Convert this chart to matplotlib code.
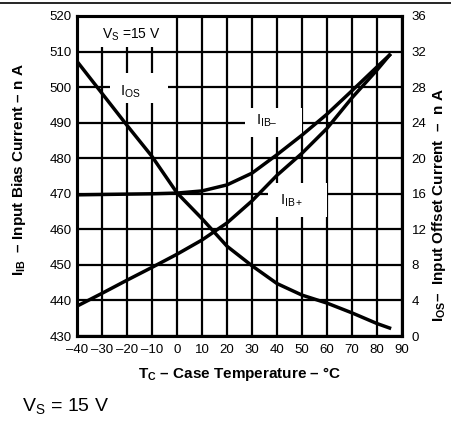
import numpy as np
import matplotlib
matplotlib.use('Agg')
import matplotlib.pyplot as plt
from matplotlib.lines import Line2D
from matplotlib.patches import Rectangle

plt.rcParams['font.family'] = ['Liberation Sans', 'DejaVu Sans']
plt.rcParams['mathtext.fontset'] = 'custom'
plt.rcParams['mathtext.rm'] = 'Liberation Sans'
plt.rcParams['mathtext.it'] = 'Liberation Sans:italic'
plt.rcParams['mathtext.bf'] = 'Liberation Sans:bold'

# temperature (deg C)
temp = [-40, -30, -20, -10, 0, 10, 20, 30, 40, 50, 60, 70, 80, 85]
# input bias currents (nA), left axis
iib_minus = [469.7, 469.8, 469.9, 470.0, 470.2, 470.8, 472.5, 475.8, 481.0, 486.5, 492.4, 499.0, 505.7, 509.0]
iib_plus = [438.4, 442.0, 445.7, 449.3, 453.0, 457.0, 461.8, 468.0, 475.2, 481.4, 488.4, 497.0, 504.8, 509.0]
# input offset current (nA), right axis
ios = [30.9, 27.3, 23.7, 20.2, 16.1, 13.2, 10.1, 7.9, 5.9, 4.6, 3.7, 2.6, 1.4, 0.9]

xticks = list(range(-40, 91, 10))
yticks_left = list(range(430, 521, 10))
yticks_right = list(range(0, 37, 4))

fig = plt.figure(figsize=(4.51, 4.21), dpi=100)
ax = fig.add_axes([0.1707, 0.2019, 0.7207, 0.7601])
ax2 = ax.twinx()

ax.set_xlim(-40, 90)
ax.set_ylim(430, 520)
ax2.set_ylim(0, 36)
ax.set_xticks(xticks)
ax.set_yticks(yticks_left)
ax2.set_yticks(yticks_right)
ax.set_xticklabels([str(t).replace('-', '\u2013') for t in xticks])

ax.grid(True, color='black', linewidth=1.6)
ax.set_axisbelow(True)
for a in (ax, ax2):
    for s in a.spines.values():
        s.set_linewidth(2.2)
ax.tick_params(length=0, labelsize=9.5, pad=4)
ax.tick_params(axis='x', pad=6)
ax2.tick_params(length=0, labelsize=9.5, pad=7)

ax.plot(temp, iib_minus, color='black', linewidth=2.5, zorder=3)
ax.plot(temp, iib_plus, color='black', linewidth=2.5, zorder=3)
ax2.plot(temp, ios, color='black', linewidth=2.5, zorder=3)

# white backgrounds behind the in-plot labels (x0, y0, x1, y1 in left-axis units)
label_boxes = [(-39.8, 511.3, -0.8, 519.8), (-26.8, 495.5, -3.6, 504.0),
               (27.2, 486.0, 50.0, 494.1), (36.4, 463.5, 60.0, 473.0)]
for x0, y0, x1, y1 in label_boxes:
    ax.add_patch(Rectangle((x0, y0), x1 - x0, y1 - y0, facecolor='white',
                           edgecolor='none', zorder=1))

ax.text(-30, 514.7, r'$\mathrm{V_S}$ =15 V', fontsize=10, va='center', ha='left', zorder=4)
ax.text(-22.8, 498.6, r'$\mathrm{I_{OS}}$', fontsize=10.5, va='center', ha='left', zorder=4)
ax.text(31.5, 490.6, '$\\mathrm{I_{IB\u2013}}$', fontsize=10.5, va='center', ha='left', zorder=4)
ax.text(41.2, 468.0, r'$\mathrm{I_{IB+}}$', fontsize=10.5, va='center', ha='left', zorder=4)

ax.set_xlabel(r'$\mathbf{T_C}$ ' + '\u2013 Case Temperature \u2013 \u00b0C',
              fontsize=11, fontweight='bold', labelpad=6)
ax.set_ylabel(r'$\mathbf{I_{IB}}$  ' + '\u2013 Input Bias Current \u2013 n A',
              fontsize=11, fontweight='bold')
ax.yaxis.set_label_coords(-0.15, 0.52)
ax2.set_ylabel(r'$\mathbf{I_{OS}}$' + '\u2013  Input Offset Current  \u2013  n A',
               fontsize=11, fontweight='bold')
ax2.yaxis.set_label_coords(1.085, 0.41)

fig.text(0.049, 0.012, r'$\mathrm{V_S}$ = 15 V', fontsize=14, ha='left', va='bottom')
fig.add_artist(Line2D([0, 1], [0.994, 0.994], color='black', linewidth=1.2))

fig.savefig('out.png', dpi=100)
